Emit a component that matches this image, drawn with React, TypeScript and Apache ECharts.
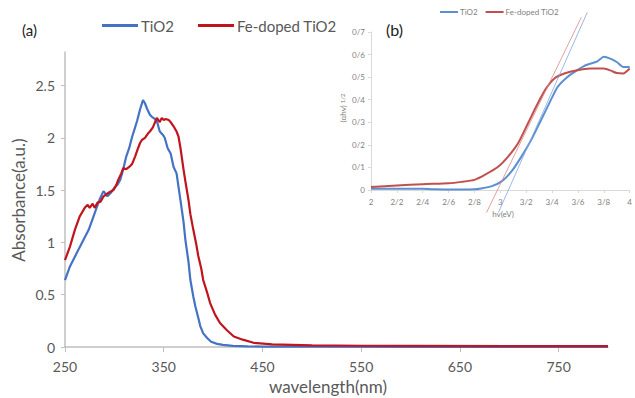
import React, { useEffect, useRef } from "react";
import * as echarts from "echarts";

const mainXTicks = [250, 350, 450, 550, 650, 750];
const tio2Wavelength = [250,255,262,268,274, 279,285,289,293,296, 300,303,306,309,312, 315,318,321,323,326, 329,331,333,336,338, 341,343,346,349,351, 354,357,360,363,367, 370,372,375,377,380, 382,385,387,390,394, 398,404,410,420,435, 450,500,600,700,800];
const tio2Absorbance = [0.64,0.77,0.90,1.01,1.12, 1.25,1.41,1.49,1.44,1.47, 1.52,1.55,1.60,1.70,1.82, 1.90,2.01,2.10,2.16,2.27, 2.36,2.33,2.28,2.22,2.20, 2.18,2.16,2.06,2.03,2.00, 1.90,1.85,1.72,1.66,1.40, 1.20,1.02,0.82,0.64,0.48, 0.39,0.28,0.20,0.13,0.086, 0.05,0.03,0.02,0.01,0.006, 0.004,0.003,0.002,0.002,0.002];
const feWavelength = [250,255,260,265,270, 273,275,278,280,283, 286,289,292,295,299, 302,304,307,309,312, 316,318,321,324,326, 328,331,334,336,339, 343,346,348,350,352, 355,357,360,363,365, 367,370,372,375,377, 380,383,385,388,390, 394,397,402,407,414, 421,430,441,460,500, 550,600,700,800];
const feAbsorbance = [0.83,0.96,1.12,1.25,1.33, 1.36,1.33,1.37,1.33,1.38, 1.39,1.44,1.46,1.48,1.50, 1.55,1.60,1.66,1.71,1.70, 1.73,1.75,1.82,1.90,1.95, 1.98,2.00,2.04,2.06,2.10, 2.19,2.15,2.19,2.17,2.18, 2.17,2.15,2.11,2.06,2.01, 1.90,1.70,1.58,1.41,1.27, 1.12,0.98,0.87,0.75,0.64, 0.52,0.42,0.31,0.23,0.16, 0.10,0.07,0.04,0.025,0.015, 0.012,0.01,0.008,0.008];

const insetTio2Energy = [2.0,2.2,2.4,2.5,2.6, 2.7,2.8,2.85,2.93,3.01, 3.086,3.163,3.239,3.315,3.39, 3.443,3.519,3.595,3.65,3.697, 3.75,3.8,3.85,3.9,3.95, 4.0];
const insetTio2Value = [0.006,0.005,0.005,0.003,0.002, 0.002,0.003,0.007,0.016,0.038, 0.082,0.148,0.222,0.31,0.398, 0.457,0.501,0.531,0.55,0.56, 0.57,0.59,0.582,0.567,0.545, 0.545];
const insetFeEnergy = [2.0,2.2,2.4,2.6,2.7, 2.8,2.883,2.985,3.06,3.137, 3.214,3.29,3.354,3.418,3.494, 3.595,3.697,3.8,3.85,3.9, 3.95,4.0];
const insetFeValue = [0.013,0.02,0.026,0.03,0.036, 0.045,0.068,0.104,0.148,0.207, 0.296,0.384,0.45,0.494,0.516, 0.531,0.538,0.538,0.53,0.518, 0.516,0.538];
const tangentTio2 = [[2.985, -0.1], [3.672, 0.787]];
const tangentFe = [[2.893, -0.1], [3.626, 0.765]];

const FONT = "Lato, 'Open Sans', sans-serif";
const BLUE = "#4472C4";
const RED = "#C0141E";
const IBLUE = "#5B8FD0";
const IRED = "#C0504D";

const zip = (a: number[], b: number[]) => a.map((v, i) => [v, b[i]]);
const slashFmt = (v: number) => (Number.isInteger(Math.round(v * 1000) / 1000) ? String(Math.round(v)) : v.toFixed(1).replace(".", "/"));

export default function App() {
  const ref = useRef<HTMLDivElement>(null);
  useEffect(() => {
    const chart = echarts.init(ref.current!, null, { renderer: "svg" });
    chart.setOption({
      animation: false,
      backgroundColor: "#ffffff",
      textStyle: { fontFamily: FONT },
      legend: [
        {
          left: 97, top: 13, itemWidth: 36, itemHeight: 3, itemGap: 24, icon: "rect",
          textStyle: { fontSize: 15, color: "#595959", fontFamily: FONT, padding: [0, 0, 0, -2] },
          data: [
            { name: "TiO2", itemStyle: { color: BLUE } },
            { name: "Fe-doped TiO2", itemStyle: { color: RED } },
          ],
        },
        {
          left: 435, top: 3, itemWidth: 18, itemHeight: 2, itemGap: 8, icon: "rect",
          textStyle: { fontSize: 8, color: "#7f7f7f", fontFamily: FONT, padding: [0, 0, 0, -3] },
          data: [
            { name: "TiO2", itemStyle: { color: IBLUE } },
            { name: "Fe-doped TiO2", itemStyle: { color: IRED } },
          ],
        },
      ],
      grid: [
        { left: 65, right: 27, top: 52, bottom: 51 },
        { left: 371, width: 262, top: 32, height: 158 },
      ],
      xAxis: [
        {
          gridIndex: 0, type: "value", min: 250, max: 800, interval: 100,
          axisLine: { lineStyle: { color: "#bfbfbf", width: 1.5 } },
          axisTick: { show: true, length: 5, lineStyle: { color: "#bfbfbf" } },
          splitLine: { show: false },
          axisLabel: {
            color: "#595959", fontSize: 14, margin: 12, showMaxLabel: false,
            formatter: (v: number) => (mainXTicks.includes(v) ? String(v) : ""),
          },
        },
        {
          gridIndex: 1, type: "value", min: 2, max: 4, interval: 0.2,
          axisLine: { lineStyle: { color: "#d9d9d9", width: 1 } },
          axisTick: { show: true, length: 3, lineStyle: { color: "#d9d9d9" } },
          splitLine: { show: false },
          axisLabel: { color: "#7f7f7f", fontSize: 8, margin: 8, formatter: slashFmt },
        },
      ],
      yAxis: [
        {
          gridIndex: 0, type: "value", min: 0, max: 2.82, interval: 0.5,
          axisLine: { show: true, lineStyle: { color: "#bfbfbf", width: 1.5 } },
          axisTick: { show: true, length: 4, lineStyle: { color: "#bfbfbf" } },
          splitLine: { show: false },
          axisLabel: { color: "#595959", fontSize: 14, margin: 10, showMaxLabel: false },
        },
        {
          gridIndex: 1, type: "value", min: 0, max: 0.7, interval: 0.1,
          axisLine: { show: true, lineStyle: { color: "#d9d9d9", width: 1 } },
          axisTick: { show: true, length: 3, lineStyle: { color: "#d9d9d9" } },
          splitLine: { show: false },
          axisLabel: { color: "#7f7f7f", fontSize: 8, margin: 6, formatter: slashFmt },
        },
      ],
      series: [
        {
          name: "TiO2", type: "line", xAxisIndex: 0, yAxisIndex: 0, showSymbol: false, symbol: "none",
          data: zip(tio2Wavelength, tio2Absorbance), lineStyle: { color: BLUE, width: 2.2 }, itemStyle: { color: BLUE }, z: 3,
        },
        {
          name: "Fe-doped TiO2", type: "line", xAxisIndex: 0, yAxisIndex: 0, showSymbol: false, symbol: "none",
          data: zip(feWavelength, feAbsorbance), lineStyle: { color: RED, width: 2.2 }, itemStyle: { color: RED }, z: 4,
        },
        {
          name: "TiO2", type: "line", xAxisIndex: 1, yAxisIndex: 1, showSymbol: false, symbol: "none", smooth: 0.2,
          data: zip(insetTio2Energy, insetTio2Value), lineStyle: { color: IBLUE, width: 2 }, itemStyle: { color: IBLUE },
        },
        {
          name: "Fe-doped TiO2", type: "line", xAxisIndex: 1, yAxisIndex: 1, showSymbol: false, symbol: "none", smooth: 0.2,
          data: zip(insetFeEnergy, insetFeValue), lineStyle: { color: IRED, width: 2 }, itemStyle: { color: IRED },
        },
        {
          name: "tangentTiO2", type: "line", xAxisIndex: 1, yAxisIndex: 1, showSymbol: false, symbol: "none", clip: false,
          data: tangentTio2, lineStyle: { color: "#7fa6dc", width: 0.8 }, silent: true,
        },
        {
          name: "tangentFe", type: "line", xAxisIndex: 1, yAxisIndex: 1, showSymbol: false, symbol: "none", clip: false,
          data: tangentFe, lineStyle: { color: "#d98883", width: 0.8 }, silent: true,
        },
      ],
      graphic: [
        { type: "text", left: 22, top: 22, style: { text: "(a)", fontSize: 15, fill: "#222", fontFamily: FONT } },
        { type: "text", left: 386, top: 21, style: { text: "(b)", fontSize: 16, fill: "#222", fontFamily: FONT } },
        {
          type: "text", x: 18, y: 200, rotation: Math.PI / 2,
          style: { text: "Absorbance(a.u.)", fontSize: 17, fill: "#595959", fontFamily: FONT, align: "center", verticalAlign: "middle" },
        },
        {
          type: "text", x: 328, y: 386,
          style: { text: "wavelength(nm)", fontSize: 17, fill: "#595959", fontFamily: FONT, align: "center", verticalAlign: "middle" },
        },
        {
          type: "text", x: 503, y: 214,
          style: { text: "hv(eV)", fontSize: 8, fill: "#7f7f7f", fontFamily: FONT, align: "center", verticalAlign: "middle" },
        },
        {
          type: "text", x: 343, y: 108, rotation: Math.PI / 2,
          style: {
            text: "(αhν) {s|1/2}", fontSize: 8, fill: "#7f7f7f", fontFamily: FONT, align: "center", verticalAlign: "middle",
            rich: { s: { fontSize: 6, fill: "#7f7f7f", verticalAlign: "top", fontFamily: FONT } },
          },
        },
      ],
    });
    return () => chart.dispose();
  }, []);
  return <div ref={ref} style={{ position: "fixed", left: 0, top: 0, width: 635, height: 398 }} />;
}
